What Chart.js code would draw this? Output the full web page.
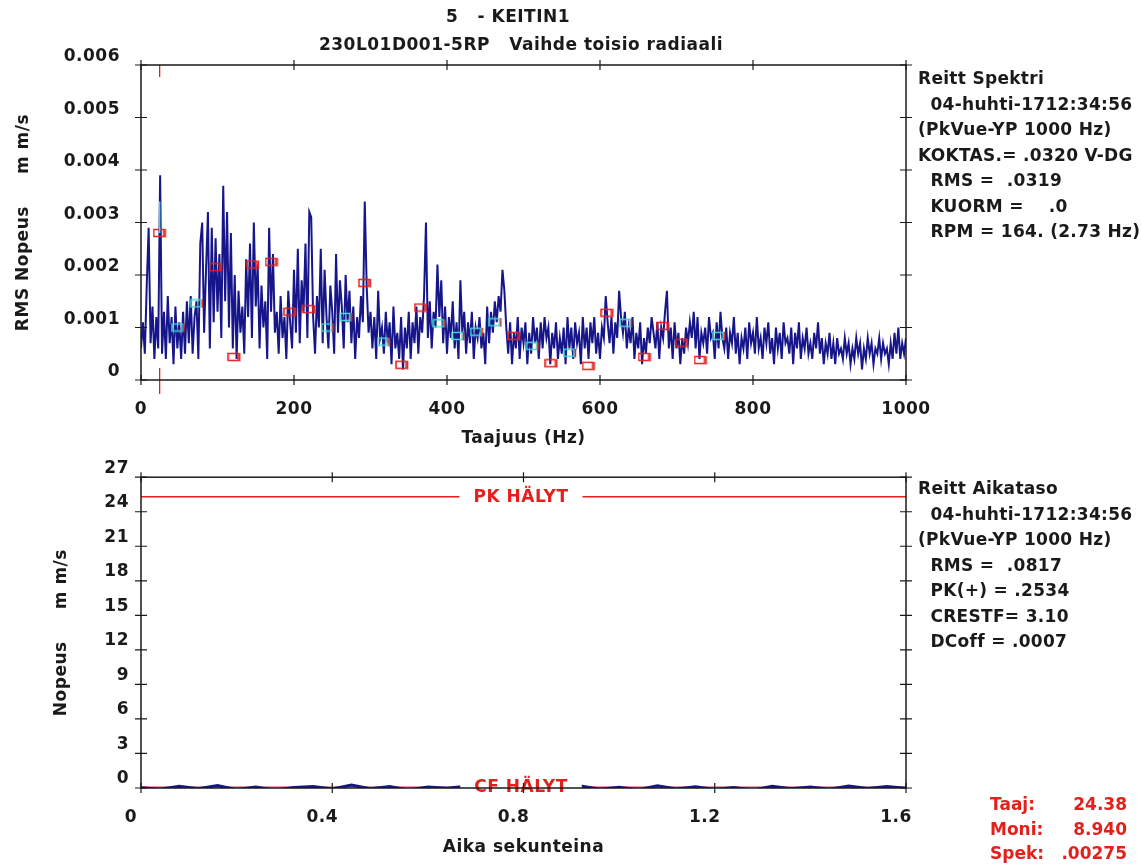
<!DOCTYPE html>
<html>
<head>
<meta charset="utf-8">
<script src="https://cdn.jsdelivr.net/npm/chart.js@4.4.0/dist/chart.umd.min.js"></script>
<style>
  body { margin: 0; background: #fff; width: 1142px; height: 867px; overflow: hidden; position: relative;
         font-family: "DejaVu Sans", sans-serif; font-weight: bold; color: #1a1a1a; }
  canvas { position: absolute; left: 0; }
  #spec { top: 0; }
  #wave { top: 455px; }
  .t { position: absolute; white-space: pre; font-size: 17px; letter-spacing: 0.3px; }
  .blk { line-height: 25.5px; }
  .red { color: #e3201c; line-height: 24.5px; letter-spacing: 0; }
</style>
</head>
<body>
<canvas id="spec" width="1142" height="460" style="width:1142px;height:460px"></canvas>
<canvas id="wave" width="1142" height="412" style="width:1142px;height:412px"></canvas>

<div class="t" style="left:0;width:1016px;text-align:center;top:6px;letter-spacing:0.5px">5   - KEITIN1</div>
<div class="t" style="left:0;width:1042px;text-align:center;top:34px;letter-spacing:0.5px">230L01D001-5RP   Vaihde toisio radiaali</div>

<div class="t blk" style="left:918px;top:66px">Reitt Spektri
  04-huhti-1712:34:56
(PkVue-YP 1000 Hz)
KOKTAS.= .0320 V-DG
  RMS =  .0319
  KUORM =    .0
  RPM = 164. (2.73 Hz)</div>

<div class="t blk" style="left:918px;top:476px">Reitt Aikataso
  04-huhti-1712:34:56
(PkVue-YP 1000 Hz)
  RMS =  .0817
  PK(+) = .2534
  CRESTF= 3.10
  DCoff = .0007</div>

<div class="t red" style="left:990px;top:792px">Taaj:
Moni:
Spek:</div>
<div class="t red" style="left:1030px;width:97px;text-align:right;top:792px">24.38
8.940
.00275</div>

<script>
// spectrum, 2.5 Hz steps, 0..1000 Hz (mm/s RMS)
var specStep = 2.5;
var specVals = [
  .0006,.0011,.0005,.0018,.0029,.0007,.0014,.0004,.0012,.0006,.0039,.0005,.0013,.0004,.0016,.0007,.0012,.0003,.0014,.0006, // 0
  .0011,.0004,.0013,.0005,.0015,.0007,.0016,.0005,.0012,.0015,.0004,.0026,.0030,.0009,.0021,.0032,.0006,.0029,.0011,.0027, // 50
  .0013,.0024,.0008,.0037,.0015,.0032,.0010,.0028,.0006,.0020,.0004,.0017,.0009,.0014,.0005,.0023,.0012,.0026,.0008,.0030, // 100
  .0014,.0022,.0006,.0018,.0010,.0015,.0004,.0029,.0013,.0024,.0009,.0013,.0005,.0016,.0008,.0012,.0004,.0017,.0011,.0006, // 150
  .0021,.0009,.0025,.0007,.0019,.0013,.0026,.0008,.0032,.0031,.0012,.0005,.0016,.0010,.0025,.0007,.0021,.0012,.0006,.0018, // 200
  .0013,.0005,.0024,.0009,.0019,.0014,.0006,.0020,.0011,.0017,.0007,.0014,.0004,.0012,.0008,.0016,.0011,.0034,.0018,.0009, // 250
  .0013,.0006,.0012,.0004,.0017,.0008,.0010,.0005,.0013,.0007,.0011,.0003,.0014,.0006,.0009,.0004,.0012,.0002,.0010,.0006, // 300
  .0013,.0004,.0011,.0007,.0014,.0005,.0012,.0009,.0016,.0030,.0008,.0015,.0006,.0013,.0010,.0022,.0012,.0019,.0007,.0014, // 350
  .0005,.0012,.0008,.0015,.0006,.0011,.0004,.0019,.0009,.0013,.0005,.0011,.0007,.0013,.0004,.0010,.0008,.0012,.0006,.0009, // 400
  .0003,.0014,.0007,.0013,.0009,.0015,.0011,.0016,.0013,.0021,.0017,.0010,.0005,.0011,.0003,.0009,.0006,.0012,.0004,.0010, // 450
  .0007,.0011,.0003,.0009,.0005,.0012,.0007,.0010,.0004,.0011,.0006,.0012,.0008,.0010,.0003,.0009,.0006,.0011,.0004,.0008, // 500
  .0005,.0010,.0003,.0012,.0006,.0010,.0004,.0011,.0007,.0009,.0003,.0012,.0006,.0010,.0004,.0011,.0007,.0012,.0005,.0009, // 550
  .0004,.0010,.0008,.0016,.0011,.0007,.0012,.0005,.0011,.0008,.0017,.0012,.0009,.0013,.0006,.0010,.0007,.0012,.0004,.0009, // 600
  .0006,.0011,.0003,.0008,.0005,.0010,.0007,.0012,.0009,.0006,.0011,.0004,.0010,.0008,.0013,.0017,.0006,.0010,.0004,.0011, // 650
  .0006,.0009,.0003,.0008,.0005,.0010,.0007,.0011,.0008,.0013,.0006,.0012,.0004,.0009,.0007,.0010,.0005,.0012,.0008,.0009, // 700
  .0004,.0011,.0006,.0013,.0008,.0006,.0010,.0004,.0009,.0007,.0012,.0005,.0009,.0003,.0008,.0006,.0010,.0004,.0011,.0007, // 750
  .0009,.0005,.0012,.0006,.0008,.0004,.0010,.0007,.0011,.0005,.0008,.0003,.0010,.0006,.0009,.0004,.0011,.0007,.0008,.0005, // 800
  .0010,.0003,.0009,.0006,.0011,.0004,.0008,.0006,.0010,.0005,.0007,.0004,.0009,.0006,.0011,.0005,.0008,.0003,.0007,.0005, // 850
  .0009,.0004,.0007,.0003,.0008,.0005,.0006,.0004,.0008,.0005,.0007,.0003,.0006,.0004,.0008,.0005,.0007,.0002,.0006,.0004, // 900
  .0008,.0005,.0007,.0003,.0006,.0005,.0008,.0004,.0007,.0005,.0006,.0003,.0007,.0004,.0009,.0005,.0010,.0004,.0007,.0005, // 950
  .0008
];

// harmonic markers of 24.38 Hz
var markerHz = [24.4, 48.8, 73.1, 97.5, 121.9, 146.3, 170.7, 195.0, 219.4, 243.8, 268.2, 292.6, 317.0, 341.3, 365.7, 390.1,
                414.5, 438.8, 463.2, 487.6, 512.0, 536.4, 560.7, 585.1, 609.5, 633.9, 658.3, 682.6, 707.0, 731.4, 755.8];
var markerVal = [.0028, .0010, .00146, .00215, .00044, .0022, .00225, .0013, .00135, .0010, .0012, .00185, .00073, .00029, .00138, .00108,
                 .00084, .00092, .0011, .00084, .00065, .00032, .00052, .00027, .00128, .00109, .00044, .00103, .00071, .00038, .00084];
var markerKind = ["r","c","c","r","r","r","r","r","r","c","c","r","c","r","r","c",
                  "c","c","c","r","c","r","c","r","r","c","r","r","r","r","c"];

var cursorHz = 24.38;
var cursorCyan = [.0028, .0034];

var specTicksY = [0, .001, .002, .003, .004, .005, .006];
var specTicksX = [0, 200, 400, 600, 800, 1000];

// time waveform, 0.04 s steps (mm/s)
var waveStep = 0.04;
var waveV = [.03,-.11,.16,-.07,.21,-.14,.09,-.19,.05,.13,-.09,.25,-.06,.12,-.17,.08,-.03,.15,-.12,.07,
             -.21,.11,-.04,.18,-.10,.06,-.15,.20,-.08,.10,-.13,.04,-.18,.14,-.06,.09,-.11,.17,-.05,.12,-.02];
var pkAlarm = 25.3;
var cfAlarm = 0.1;
var waveTicksY = [0, 3, 6, 9, 12, 15, 18, 21, 24, 27];
var waveTicksX = [0, 0.4, 0.8, 1.2, 1.6];

var NAVY = "#16168a";
var RED = "#e3201c";
var CYAN = "#40d8d0";
var INK = "#1a1a1a";
var FONT = { family: "DejaVu Sans", weight: "bold", size: 17 };

function boxImg(color) {
  var c = document.createElement("canvas");
  c.width = 14; c.height = 10;
  var g = c.getContext("2d");
  g.strokeStyle = color; g.lineWidth = 1.5;
  g.strokeRect(1, 1.5, 10, 7);
  g.strokeStyle = RED;
  g.beginPath(); g.moveTo(12.5, 1); g.lineTo(12.5, 9.5); g.stroke();
  return c;
}
var redBox = boxImg(RED), cyanBox = boxImg(CYAN);

var spacing = {
  id: "spacing",
  beforeDraw: function (chart) { chart.ctx.letterSpacing = "0.5px"; }
};

// frame + ticks that cross all four sides
var frameTicks = {
  id: "frameTicks",
  afterDraw: function (chart) {
    var a = chart.chartArea, g = chart.ctx;
    var sx = chart.scales.x, sy = chart.scales.y;
    g.save();
    g.strokeStyle = INK; g.lineWidth = 1.5;
    g.strokeRect(a.left, a.top, a.right - a.left, a.bottom - a.top);
    g.lineWidth = 1.2;
    g.beginPath();
    sx.ticks.forEach(function (t) {
      var x = sx.getPixelForValue(t.value);
      g.moveTo(x, a.bottom - 5); g.lineTo(x, a.bottom + 5);
      g.moveTo(x, a.top - 5); g.lineTo(x, a.top + 5);
    });
    sy.ticks.forEach(function (t) {
      var y = sy.getPixelForValue(t.value);
      g.moveTo(a.left - 6, y); g.lineTo(a.left + 6, y);
      g.moveTo(a.right - 6, y); g.lineTo(a.right + 6, y);
    });
    g.stroke();
    g.restore();
  }
};

// red cursor at running speed
var cursor = {
  id: "cursor",
  afterDatasetsDraw: function (chart) {
    var a = chart.chartArea, g = chart.ctx;
    var x = chart.scales.x.getPixelForValue(cursorHz);
    var sy = chart.scales.y;
    g.save();
    g.strokeStyle = CYAN; g.lineWidth = 1.5;
    g.beginPath();
    g.moveTo(x, sy.getPixelForValue(cursorCyan[0])); g.lineTo(x, sy.getPixelForValue(cursorCyan[1]));
    g.stroke();
    g.strokeStyle = RED; g.lineWidth = 1.3;
    g.beginPath();
    g.moveTo(x, a.top); g.lineTo(x, a.top + 12);
    g.moveTo(x, a.bottom - 12); g.lineTo(x, a.bottom + 14);
    g.stroke();
    g.restore();
  }
};

// alarm labels sitting on the alarm lines
var alarmLabels = {
  id: "alarmLabels",
  afterDatasetsDraw: function (chart) {
    var g = chart.ctx, sy = chart.scales.y;
    var cx = 521;
    g.save();
    g.font = "bold 17px 'DejaVu Sans'";
    g.textAlign = "center"; g.textBaseline = "middle";
    [[pkAlarm, "PK HÄLYT"], [cfAlarm, "CF HÄLYT"]].forEach(function (p) {
      var y = sy.getPixelForValue(p[0]);
      var w = g.measureText(p[1]).width + 28;
      g.fillStyle = "#fff";
      g.fillRect(cx - w / 2, y - 4, w, 8);
      g.fillStyle = RED;
      g.fillText(p[1], cx, y + 1);
    });
    g.restore();
  }
};

function fixWidth(w) { return function (s) { s.width = w; }; }
function fixHeight(h) { return function (s) { s.height = h; }; }

var specPts = specVals.map(function (v, i) { return { x: i * specStep, y: v }; });
var markerPts = markerHz.map(function (f, i) { return { x: f, y: markerVal[i] }; });
var wavePts = waveV.map(function (v, i) { return { x: i * waveStep, y: v }; });

new Chart(document.getElementById("spec"), {
  type: "line",
  data: {
    datasets: [
      {
        data: markerPts,
        showLine: false,
        pointStyle: markerKind.map(function (k) { return k == "r" ? redBox : cyanBox; }),
        pointRadius: 5,
        order: 0
      },
      {
        data: specPts,
        borderColor: NAVY,
        borderWidth: 2,
        pointRadius: 0,
        tension: 0,
        order: 1
      }
    ]
  },
  options: {
    responsive: false,
    animation: false,
    events: [],
    layout: { padding: { left: 0, right: 236, top: 65, bottom: 0 } },
    plugins: { legend: { display: false }, tooltip: { enabled: false } },
    scales: {
      x: {
        type: "linear", min: 0, max: 1000,
        afterFit: fixHeight(80),
        afterBuildTicks: function (s) { s.ticks = specTicksX.map(function (v) { return { value: v }; }); },
        grid: { display: false, drawTicks: false },
        border: { display: false },
        ticks: { color: INK, font: FONT, padding: 19, maxRotation: 0,
                 callback: function (v) { return String(v); } },
        title: { display: true, text: "Taajuus (Hz)", color: INK, font: FONT, padding: { top: 0, bottom: 11 } }
      },
      y: {
        min: 0, max: 0.006,
        afterFit: fixWidth(141),
        afterBuildTicks: function (s) { s.ticks = specTicksY.map(function (v) { return { value: v }; }); },
        grid: { display: false, drawTicks: false },
        border: { display: false },
        ticks: { color: INK, font: FONT, padding: 21, labelOffset: -8,
                 callback: function (v) { return v === 0 ? "0" : v.toFixed(3); } },
        title: { display: true, text: "RMS Nopeus     m m/s", color: INK, font: FONT, padding: { top: 13, bottom: 0 } }
      }
    }
  },
  plugins: [spacing, frameTicks, cursor]
});

new Chart(document.getElementById("wave"), {
  type: "line",
  data: {
    datasets: [
      {
        data: [{ x: 0, y: pkAlarm }, { x: 1.6, y: pkAlarm }],
        borderColor: RED, borderWidth: 1.3, pointRadius: 0
      },
      {
        data: wavePts,
        borderColor: NAVY, borderWidth: 3, pointRadius: 0, tension: 0
      },
      {
        data: [{ x: 0, y: cfAlarm }, { x: 1.6, y: cfAlarm }],
        borderColor: "rgba(200,30,60,0.6)", borderWidth: 1.2, pointRadius: 0
      }
    ]
  },
  options: {
    responsive: false,
    animation: false,
    events: [],
    layout: { padding: { left: 0, right: 236, top: 19, bottom: 0 } },
    plugins: { legend: { display: false }, tooltip: { enabled: false } },
    scales: {
      x: {
        type: "linear", min: 0, max: 1.6,
        afterFit: fixHeight(79),
        afterBuildTicks: function (s) { s.ticks = waveTicksX.map(function (v) { return { value: v }; }); },
        grid: { display: false, drawTicks: false },
        border: { display: false },
        ticks: { color: INK, font: FONT, padding: 19, labelOffset: -10, maxRotation: 0,
                 callback: function (v) { return v === 0 ? "0" : v.toFixed(1); } },
        title: { display: true, text: "Aika sekunteina", color: INK, font: FONT, padding: { top: 0, bottom: 9 } }
      },
      y: {
        min: 0, max: 27,
        afterFit: fixWidth(141),
        afterBuildTicks: function (s) { s.ticks = waveTicksY.map(function (v) { return { value: v }; }); },
        grid: { display: false, drawTicks: false },
        border: { display: false },
        ticks: { color: INK, font: FONT, padding: 12, labelOffset: -9 },
        title: { display: true, text: "Nopeus     m m/s", color: INK, font: FONT, padding: { top: 51, bottom: 0 } }
      }
    }
  },
  plugins: [spacing, frameTicks, alarmLabels]
});
</script>
</body>
</html>
